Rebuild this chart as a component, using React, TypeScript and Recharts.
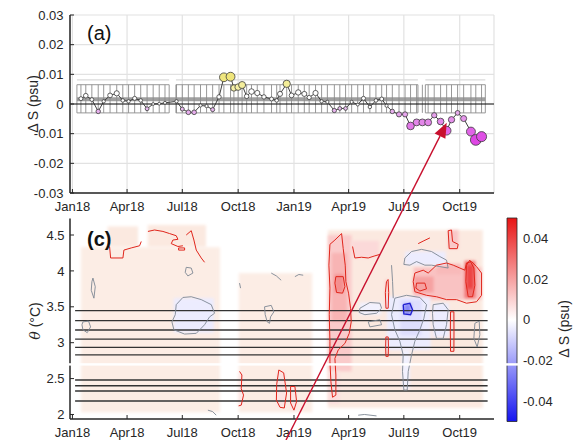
import React from "react";
import {
  ComposedChart,
  Line,
  XAxis,
  YAxis,
  CartesianGrid,
  ReferenceLine,
  ReferenceArea,
} from "recharts";

const FONT = '"Liberation Sans", Arial, Helvetica, sans-serif';
const INK = "#262626";

// Time axis: days since 1 Jan 2018
const monthTicks = [0, 90, 181, 273, 365, 455, 546, 638];
const monthLabels = ["Jan18", "Apr18", "Jul18", "Oct18", "Jan19", "Apr19", "Jul19", "Oct19"];
const dayDomain: [number, number] = [-4, 694.5];

// ---- panel (a): salinity anomaly time series ----
const dsTicks = [-0.03, -0.02, -0.01, 0, 0.01, 0.02, 0.03];
const sampleDays = [
  14, 22, 32, 42.5, 51.5, 62, 73, 83, 92.5, 102.5,
  112.5, 123, 133, 143, 152.5, 171.5, 181, 191, 200.5, 211,
  221, 231, 241.5, 249.5, 260.5, 266, 273, 279.5, 287, 295,
  304.5, 315.5, 328, 336.5, 342, 353, 361, 372, 382, 390,
  400.5, 410.5, 420, 431.5, 440.5, 450, 460, 470, 479.5, 490,
  500, 509.5, 517.5, 527, 538, 548, 557, 567, 576.5, 586,
  596, 606.5, 616.5, 624.5, 634.5, 644.5, 656.5, 664.5, 674,
];
const deltaS = [
  0.0018, 0.0028, 0.0015, -0.0025, 0.0009, 0.0029, 0.0036, 0.0012, 0.0009, 0.0019,
  0.0012, -0.0016, 0.0, 0.0001, 0.0004, 0.0009, -0.0017, -0.0028, -0.0028, -0.0005,
  -0.0007, -0.0019, 0.0024, 0.009, 0.0092, 0.0054, 0.0057, 0.0064, 0.0026, 0.0042,
  0.0037, 0.0024, 0.0017, 0.0012, 0.0034, 0.0068, 0.0029, 0.0039, 0.0034, 0.0022,
  0.0037, 0.0009, 0.0007, -0.0022, -0.0015, -0.0015, 0.0007, -0.0002, 0.0019, -0.001,
  0.0012, 0.0017, -0.0006, -0.0025, -0.0035, -0.0035, -0.0074, -0.0062, -0.0062, -0.0062,
  -0.0038, -0.0059, -0.009, -0.0053, -0.003, -0.0049, -0.0093, -0.0121, -0.011,
];
// uncertainty envelope drawn as a fence, per deployment period
const fenceGroups = [
  [7.4, 159.4],
  [170.5, 569.2],
  [581.4, 680.2],
];
const fenceLow = -0.003;
const fenceHigh = 0.0065;
const fenceFaint = 0.0081;
const bandLow = 0.0009;
const bandHigh = 0.0023;

// ---- panel (c): anomaly on potential-temperature levels ----
const thetaTicks = [2, 2.5, 3, 3.5, 4, 4.5];
const thetaDomain: [number, number] = [1.937, 4.73];
const layerThetas = [3.446, 3.306, 3.177, 3.051, 2.936, 2.829, 2.48, 2.4, 2.327, 2.188];
const layerSpan = [4.4, 684];

// [dayStart, dayEnd, thetaLow, thetaHigh, deltaS]
const patches = [
  [14, 243, 2.03, 4.33, 0.0025],
  [58, 108, 4.33, 4.62, 0.0045],
  [124, 220, 4.33, 4.64, 0.004],
  [274, 395, 2.03, 3.97, 0.0025],
  [421, 676, 2.09, 4.57, 0.003],
  [421, 460, 2.6, 4.5, 0.011],
  [427, 452, 3.3, 4.25, 0.016],
  [432, 447, 3.7, 3.95, 0.024],
  [421, 440, 2.15, 2.6, 0.007],
  [460, 505, 4.18, 4.42, 0.008],
  [515, 521, 3.48, 3.88, 0.01],
  [516, 521, 2.81, 3.08, 0.009],
  [562, 674, 3.6, 4.05, 0.013],
  [562, 595, 3.7, 3.92, 0.02],
  [600, 640, 3.95, 4.1, 0.015],
  [646, 664, 3.62, 4.14, 0.03],
  [650, 660, 3.75, 4.08, 0.04],
  [619, 636, 4.31, 4.57, 0.012],
  [623, 628, 2.88, 3.43, 0.009],
  [336, 352, 2.1, 2.6, 0.006],
  [274, 282, 2.12, 2.58, 0.005],
  [359, 369, 2.06, 2.39, 0.006],
  [167, 233, 3.14, 3.62, -0.004],
  [518, 590, 2.9, 3.64, -0.004],
  [540, 575, 3.1, 3.6, -0.007],
  [546, 558, 3.4, 3.54, -0.026],
  [548, 615, 4.08, 4.27, -0.004],
  [594, 620, 3.08, 3.55, -0.004],
  [473, 509, 3.39, 3.56, -0.003],
  [543, 556, 2.35, 2.9, -0.003],
];

// contour lines as [day, theta] paths
const redContours = [
  [[424.2, 4.37], [432.4, 4.43], [443.4, 4.52], [446.1, 4.31], [449.4, 4.08], [450.5, 3.85], [454.9, 3.69], [458.2, 3.48], [459.3, 3.29], [456, 3.13], [448.9, 2.99], [437.9, 2.9], [432.4, 2.78], [434, 2.55], [434, 2.27], [428.5, 2.24], [425.8, 2.46], [424.2, 2.74], [424.2, 3.02], [423.1, 3.39], [424.2, 3.76], [422.5, 4.08], [424.2, 4.37]],
  [[434, 3.92], [446.1, 3.92], [448.9, 3.78], [445, 3.69], [435.1, 3.7], [432.4, 3.83], [434, 3.92]],
  [[461.5, 4.34], [465.3, 4.18], [476.3, 4.19], [487.3, 4.18], [498.3, 4.21], [506.5, 4.23]],
  [[561.4, 3.85], [564.1, 3.97], [577.9, 4.01], [586.1, 3.97], [599.8, 4.08], [616.3, 4.11], [627.3, 4.08], [638.3, 4.04], [646.5, 4.01], [649.2, 4.11], [657.5, 4.13], [665.7, 4.06], [674, 3.97], [674, 3.66], [665.7, 3.57], [649.2, 3.55], [632.8, 3.6], [616.3, 3.6], [599.8, 3.64], [583.4, 3.66], [564.1, 3.71], [561.4, 3.85]],
  [[649.2, 4.08], [654.7, 4.15], [661.3, 4.04], [663, 3.8], [659.1, 3.64], [652, 3.64], [648.1, 3.85], [649.2, 4.08]],
  [[619, 4.56], [624.5, 4.57], [626.2, 4.41], [635.5, 4.37], [633.9, 4.31], [620.7, 4.31], [619, 4.56]],
  [[566.9, 3.83], [580.6, 3.83], [583.4, 3.75], [572.4, 3.72], [565.8, 3.76], [566.9, 3.83]],
  [[517.4, 3.85], [520, 3.88], [521, 3.7], [520.2, 3.48], [516.5, 3.48], [515.5, 3.7], [517.4, 3.85]],
  [[516.4, 3.08], [520.2, 3.08], [520.6, 2.95], [520.2, 2.81], [516.4, 2.81], [516, 2.95], [516.4, 3.08]],
  [[622.9, 3.43], [628.4, 3.43], [628.6, 3.15], [628.4, 2.88], [622.9, 2.88], [622.6, 3.15], [622.9, 3.43]],
  [[340, 2.62], [348, 2.58], [352.8, 2.3], [349, 2.09], [342, 2.1], [336, 2.2], [336.5, 2.42], [340, 2.62]],
  [[359.4, 2.39], [366.5, 2.39], [369.3, 2.18], [364.9, 2.06], [359.4, 2.16], [359.4, 2.39]],
  [[275.3, 2.6], [279.2, 2.55], [278.1, 2.36], [281.9, 2.27], [278.1, 2.13], [273.7, 2.12]],
  [[61.2, 4.34], [62.9, 4.18], [83.2, 4.18], [84.8, 4.29], [96.9, 4.32], [110.6, 4.35], [113.4, 4.41]],
  [[124.4, 4.55], [135.3, 4.57], [149.1, 4.55], [160.1, 4.52], [171, 4.49], [173.8, 4.44], [165.5, 4.43], [162.8, 4.38], [173.8, 4.34], [182, 4.35]],
  [[174.9, 4.32], [184.8, 4.32], [184.8, 4.29], [174.9, 4.29], [174.9, 4.32]],
  [[187.5, 4.5], [195.7, 4.56], [200.1, 4.43], [204, 4.29], [212.2, 4.18], [217.7, 4.12]],
  [[569.6, 4.38], [579, 4.42], [588.9, 4.46]],
];
const grayContours = [
  [[171, 3.53], [182, 3.63], [195.7, 3.64], [212.2, 3.6], [228.7, 3.53], [234.2, 3.41], [226, 3.36], [217.7, 3.25], [204, 3.13], [184.8, 3.12], [167.2, 3.18], [163.9, 3.29], [169.4, 3.39], [171, 3.53]],
  [[187.5, 4.05], [195.7, 4.04], [198.5, 3.97], [190.2, 3.93], [185.8, 3.98], [187.5, 4.05]],
  [[33.8, 3.9], [37.6, 3.78], [35.4, 3.62], [31, 3.73], [32.1, 3.85], [33.8, 3.9]],
  [[17.3, 3.29], [26.6, 3.3], [29.9, 3.22], [24.4, 3.14], [17.3, 3.18], [15.7, 3.25], [17.3, 3.29]],
  [[316.5, 3.5], [327.5, 3.52], [331.9, 3.43], [326.4, 3.36], [324.7, 3.27], [320.9, 3.29], [317.6, 3.39], [316.5, 3.5]],
  [[327.5, 3.97], [336, 3.93], [343.9, 3.87]],
  [[223.2, 2.06], [231, 2.04], [236.9, 1.99]],
  [[366.5, 3.92], [373, 3.95], [380.2, 3.94]],
  [[275.3, 3.83], [277, 3.76]],
  [[547.7, 4.18], [558.7, 4.27], [575.1, 4.3], [591.6, 4.27], [605.3, 4.2], [616.3, 4.15], [619, 4.04], [605.3, 4.06], [591.6, 4.08], [580.6, 4.08], [566.9, 4.13], [555.9, 4.08], [546, 4.09], [547.7, 4.18]],
  [[531.2, 3.62], [550.4, 3.66], [572.4, 3.63], [583.4, 3.53], [579, 3.34], [572.4, 3.18], [564.1, 3.02], [558.7, 2.83], [553.2, 2.6], [551.5, 2.34], [546, 2.34], [543.8, 2.6], [544.9, 2.83], [539.4, 3.02], [531.2, 3.18], [525.7, 3.39], [531.2, 3.62]],
  [[525.7, 4.08], [527.4, 3.85], [528.5, 3.62]],
  [[473.6, 3.48], [490, 3.56], [506.5, 3.55], [509.3, 3.48], [501, 3.41], [481.8, 3.39], [472.5, 3.42], [473.6, 3.48]],
  [[487.3, 3.29], [506.5, 3.32], [509.3, 3.25], [490, 3.22], [487.3, 3.29]],
  [[594.3, 3.53], [610.8, 3.55], [619, 3.46], [616.3, 3.25], [610.8, 3.06], [599.8, 3.06], [594.3, 3.25], [593.2, 3.41], [594.3, 3.53]],
  [[663, 3.27], [670.1, 3.3], [671.2, 3.11], [666.8, 2.94], [661.3, 3.06], [663, 3.27]],
  [[470.8, 1.99], [481, 2.0], [501, 1.98]],
];
const blueContours = [
  [[545, 3.53], [555.9, 3.55], [560.3, 3.46], [557, 3.39], [546, 3.4], [545, 3.53]],
];

// colour bar
const cbarTicks = [-0.04, -0.02, 0, 0.02, 0.04];
const cbarDomain: [number, number] = [-0.05, 0.05];
const cbarData = [
  { x: 0, v: -0.05 },
  { x: 1, v: 0.05 },
];

// diverging blue-white-red colour map, saturating at +-0.05
function cmap(v: number): string {
  const t = Math.max(-1, Math.min(1, v / 0.05));
  let r: number, g: number, b: number;
  if (t >= 0) {
    r = 255 + (232 - 255) * t;
    g = 255 + (20 - 255) * t;
    b = 255 + (20 - 255) * t;
  } else {
    const a = -t;
    r = 255 + (20 - 255) * a;
    g = 255 + (20 - 255) * a;
    b = 255 + (240 - 255) * a;
  }
  return `rgb(${Math.round(r)},${Math.round(g)},${Math.round(b)})`;
}

// faint warm tint used for weak positive anomalies
function heatFill(v: number): string {
  if (v > 0 && v < 0.005) {
    const t = Math.min(1, v / 0.003);
    return `rgb(${Math.round(255 - 4 * t)},${Math.round(255 - 22 * t)},${Math.round(255 - 31 * t)})`;
  }
  return cmap(v);
}

function mix(c0: number[], c1: number[], t: number): string {
  const c = c0.map((x, i) => Math.round(x + (c1[i] - x) * t));
  return `rgb(${c[0]},${c[1]},${c[2]})`;
}

function markerFill(v: number): string {
  if (v >= 0.0045) return mix([248, 244, 178], [238, 228, 120], Math.min(1, (v - 0.0045) / 0.005));
  if (v <= -0.0013) return mix([232, 190, 238], [222, 70, 228], Math.min(1, (-v - 0.0013) / 0.0105));
  return "#ffffff";
}

const seriesA = sampleDays.map((d, i) => ({ d, v: deltaS[i] }));
const toPts = (path: number[][]) => path.map(([d, t]) => ({ d, t }));

const monthFmt = (v: number) => {
  const i = monthTicks.indexOf(v);
  return i >= 0 ? monthLabels[i] : "";
};
const dsFmt = (v: number) => (v === 0 ? "0" : v.toFixed(2));

const tickStyle = { fontSize: 13, fill: INK, fontFamily: FONT };
const frame = { stroke: INK, strokeWidth: 1.5 };

const renderMarker = (props: any) => {
  const { cx, cy, payload, index } = props;
  const v = payload.v as number;
  const r = 1.4 + Math.abs(v) * 330;
  return (
    <circle
      key={`mk-${index}`}
      cx={cx}
      cy={cy}
      r={r}
      fill={markerFill(v)}
      stroke="#3c3c3c"
      strokeWidth={0.8}
    />
  );
};

const softRect = (fill: string) => (p: any) => (
  <rect x={p.x} y={p.y} width={p.width} height={p.height} fill={fill} filter="url(#soften)" />
);

function PanelA() {
  const fenceXs = [...sampleDays, ...fenceGroups.flat()];
  return (
    <ComposedChart width={575} height={215} margin={{ top: 15, right: 81, bottom: 0, left: 0 }}>
      <CartesianGrid stroke="#e2e2e2" strokeWidth={1.2} />
      <XAxis
        type="number"
        dataKey="d"
        domain={dayDomain}
        allowDataOverflow
        ticks={monthTicks}
        interval={0}
        tickFormatter={monthFmt}
        height={22}
        tickSize={-4}
        tickMargin={13}
        axisLine={frame}
        tickLine={{ stroke: INK }}
        tick={tickStyle}
      />
      <XAxis
        xAxisId="top"
        orientation="top"
        type="number"
        domain={dayDomain}
        allowDataOverflow
        ticks={monthTicks}
        interval={0}
        height={0}
        tickSize={-4}
        tick={false}
        axisLine={frame}
        tickLine={{ stroke: INK }}
      />
      <YAxis
        type="number"
        domain={[-0.03, 0.03]}
        allowDataOverflow
        ticks={dsTicks}
        interval={0}
        tickFormatter={dsFmt}
        width={70}
        tickSize={-4}
        tickMargin={10.5}
        axisLine={frame}
        tickLine={{ stroke: INK }}
        tick={tickStyle}
      />
      <YAxis
        yAxisId="right"
        orientation="right"
        type="number"
        domain={[-0.03, 0.03]}
        allowDataOverflow
        ticks={dsTicks}
        interval={0}
        width={0}
        tickSize={-4}
        tick={false}
        axisLine={frame}
        tickLine={{ stroke: INK }}
      />
      {fenceGroups.map(([a, b], i) => (
        <ReferenceLine
          key={`ff${i}`}
          segment={[{ x: a, y: fenceFaint }, { x: b, y: fenceFaint }]}
          stroke="#dadada"
          strokeWidth={1.2}
        />
      ))}
      <ReferenceArea x1={fenceGroups[0][0]} x2={fenceGroups[2][1]} y1={bandLow} y2={bandHigh} fill="#a0a0a0" fillOpacity={1} stroke="none" />
      {fenceXs.map((d, i) => (
        <ReferenceLine
          key={`fv${i}`}
          segment={[{ x: d, y: fenceLow }, { x: d, y: fenceHigh }]}
          stroke="#8c8c8c"
          strokeWidth={0.9}
        />
      ))}
      {fenceGroups.map(([a, b], i) => (
        <ReferenceLine
          key={`fh${i}`}
          segment={[{ x: a, y: fenceHigh }, { x: b, y: fenceHigh }]}
          stroke="#8c8c8c"
          strokeWidth={0.9}
        />
      ))}
      {fenceGroups.map(([a, b], i) => (
        <ReferenceLine
          key={`fl${i}`}
          segment={[{ x: a, y: fenceLow }, { x: b, y: fenceLow }]}
          stroke="#8c8c8c"
          strokeWidth={0.9}
        />
      ))}
      <ReferenceLine y={0} stroke="#111" strokeWidth={1.2} />
      <Line
        data={seriesA}
        dataKey="v"
        type="linear"
        stroke="#2a2a2a"
        strokeWidth={0.9}
        dot={renderMarker}
        activeDot={false}
        isAnimationActive={false}
      />
    </ComposedChart>
  );
}

function PanelC() {
  return (
    <ComposedChart width={575} height={225} margin={{ top: 3.5, right: 81, bottom: 0, left: 0 }}>
      <XAxis
        type="number"
        dataKey="d"
        domain={dayDomain}
        allowDataOverflow
        ticks={monthTicks}
        interval={0}
        tickFormatter={monthFmt}
        height={21}
        tickSize={-4}
        tickMargin={13}
        axisLine={frame}
        tickLine={{ stroke: INK }}
        tick={tickStyle}
      />
      <XAxis
        xAxisId="top"
        orientation="top"
        type="number"
        domain={dayDomain}
        allowDataOverflow
        ticks={monthTicks}
        interval={0}
        height={0}
        tickSize={-4}
        tick={false}
        axisLine={frame}
        tickLine={{ stroke: INK }}
      />
      <YAxis
        type="number"
        domain={thetaDomain}
        allowDataOverflow
        ticks={thetaTicks}
        interval={0}
        width={70}
        tickSize={-4}
        tickMargin={9.5}
        axisLine={frame}
        tickLine={{ stroke: INK }}
        tick={tickStyle}
      />
      <YAxis
        yAxisId="right"
        orientation="right"
        type="number"
        domain={thetaDomain}
        allowDataOverflow
        ticks={thetaTicks}
        interval={0}
        width={0}
        tickSize={-4}
        tick={false}
        axisLine={frame}
        tickLine={{ stroke: INK }}
      />
      {patches.map(([d0, d1, t0, t1, v], i) => (
        <ReferenceArea
          key={`p${i}`}
          x1={d0}
          x2={d1}
          y1={t0}
          y2={t1}
          fill={heatFill(v)}
          fillOpacity={1}
          stroke="none"
          shape={softRect(heatFill(v))}
        />
      ))}
      {layerThetas.map((t, i) => (
        <ReferenceLine
          key={`l${i}`}
          segment={[{ x: layerSpan[0], y: t }, { x: layerSpan[1], y: t }]}
          stroke="#333"
          strokeWidth={1.3}
        />
      ))}
      {grayContours.map((c, i) => (
        <Line
          key={`g${i}`}
          data={toPts(c)}
          dataKey="t"
          type="linear"
          stroke="#7d8793"
          strokeWidth={0.9}
          dot={false}
          activeDot={false}
          isAnimationActive={false}
        />
      ))}
      {redContours.map((c, i) => (
        <Line
          key={`r${i}`}
          data={toPts(c)}
          dataKey="t"
          type="linear"
          stroke="#e0261c"
          strokeWidth={1}
          dot={false}
          activeDot={false}
          isAnimationActive={false}
        />
      ))}
      {blueContours.map((c, i) => (
        <Line
          key={`b${i}`}
          data={toPts(c)}
          dataKey="t"
          type="linear"
          stroke="#1f1fd0"
          strokeWidth={1.4}
          dot={false}
          activeDot={false}
          isAnimationActive={false}
        />
      ))}
    </ComposedChart>
  );
}

function ColorBar() {
  return (
    <ComposedChart
      width={75}
      height={225}
      data={cbarData}
      margin={{ top: 3, right: 18, bottom: 18.5, left: 7 }}
    >
      <XAxis dataKey="x" type="number" domain={[0, 1]} hide />
      <YAxis
        orientation="right"
        type="number"
        domain={cbarDomain}
        allowDataOverflow
        ticks={cbarTicks}
        interval={0}
        tickFormatter={dsFmt}
        width={40}
        tickSize={0}
        tickMargin={6}
        axisLine={false}
        tickLine={false}
        tick={tickStyle}
      />
      <ReferenceArea
        x1={0}
        x2={1}
        y1={cbarDomain[0]}
        y2={cbarDomain[1]}
        fill="url(#cbarGrad)"
        fillOpacity={1}
        stroke={INK}
        strokeWidth={0.8}
      />
      <Line dataKey="v" stroke="none" dot={false} activeDot={false} isAnimationActive={false} />
    </ComposedChart>
  );
}

export default function App() {
  return (
    <div
      style={{
        position: "absolute",
        left: 0,
        top: 0,
        width: 575,
        height: 440,
        background: "#fff",
        overflow: "hidden",
      }}
    >
      <svg width={0} height={0} style={{ position: "absolute" }}>
        <defs>
          <filter id="soften" filterUnits="userSpaceOnUse" x={-50} y={-50} width={700} height={600}>
            <feGaussianBlur stdDeviation={1.6} />
          </filter>
          <linearGradient id="cbarGrad" x1="0" y1="0" x2="0" y2="1">
            <stop offset="0" stopColor={cmap(0.05)} />
            <stop offset="0.5" stopColor={cmap(0)} />
            <stop offset="1" stopColor={cmap(-0.05)} />
          </linearGradient>
        </defs>
      </svg>
      <div style={{ position: "absolute", left: 0, top: 0 }}>
        <PanelA />
      </div>
      <div style={{ position: "absolute", left: 0, top: 215 }}>
        <PanelC />
      </div>
      <div style={{ position: "absolute", left: 500, top: 215 }}>
        <ColorBar />
      </div>
      <svg
        width={575}
        height={440}
        style={{ position: "absolute", left: 0, top: 0, pointerEvents: "none" }}
        fontFamily={FONT}
      >
        {/* axis break across panel (c) and its colour bar */}
        <rect x={64} y={363.2} width={458} height={2.4} fill="#ffffff" />
        <text x={87} y={40} fontSize={20} fill="#111">(a)</text>
        <text x={87} y={246} fontSize={20} fontWeight="bold" fill="#111">(c)</text>
        <text
          transform="translate(33 104) rotate(-90)"
          textAnchor="middle"
          dy="0.35em"
          fontSize={14}
          fill={INK}
        >
          Δ S (psu)
        </text>
        <text
          transform="translate(35 321) rotate(-90)"
          textAnchor="middle"
          dy="0.35em"
          fontSize={14}
          fill={INK}
        >
          <tspan fontStyle="italic" fontFamily="'DejaVu Serif', serif">θ</tspan> (°C)
        </text>
        <text
          transform="translate(564 329) rotate(-90)"
          textAnchor="middle"
          dy="0.35em"
          fontSize={14}
          fill={INK}
        >
          Δ S (psu)
        </text>
        {/* annotation arrow */}
        <line x1={286} y1={440} x2={440} y2={136.1} stroke="#c8102e" strokeWidth={1.4} />
        <polygon points="446.7,122.7 445.4,138.8 434.6,133.4" fill="#c8102e" />
      </svg>
    </div>
  );
}
